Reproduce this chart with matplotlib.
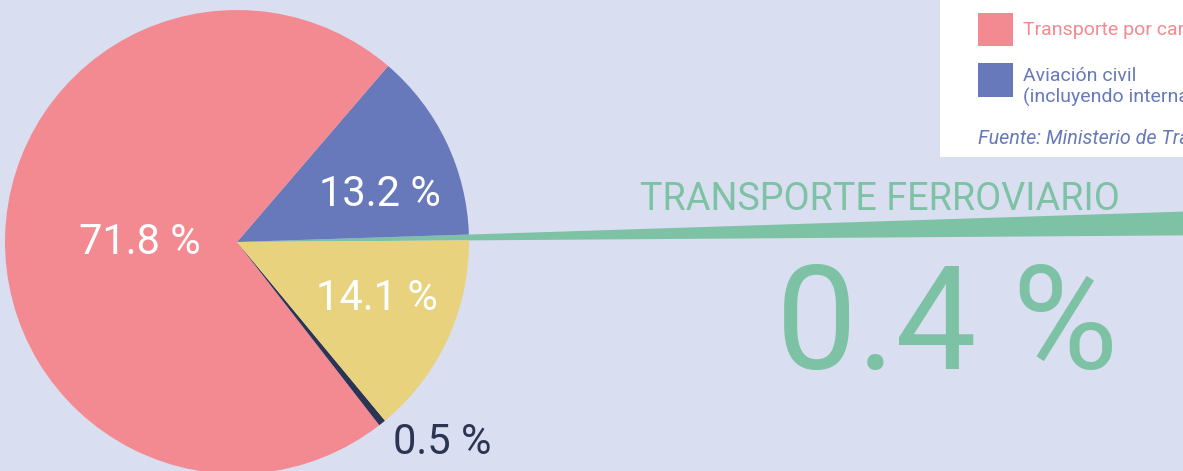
import matplotlib.pyplot as plt
from matplotlib.patches import Rectangle

plt.rcParams['font.family'] = ['Roboto', 'DejaVu Sans']

# slices, counterclockwise from the right
sectores = ['Transporte ferroviario', 'Aviación civil', 'Transporte por carretera',
            'Otros', 'Navegación']
valores = [0.4, 13.2, 71.8, 0.5, 14.1]
colores = ['#7DC2A4', '#6879BB', '#F48A91', '#2B3452', '#E9D27E']
etiquetas = ['', '13.2 %', '71.8 %', '0.5 %', '14.1 %']

leyenda = ['Transporte por carretera', 'Aviación civil\n(incluyendo internacional)']
fuente = 'Fuente: Ministerio de Transportes, Movilidad y Agenda Urbana'

fondo = '#D9DEF0'
W, H = 1183, 471

fig = plt.figure(figsize=(W / 100, H / 100), dpi=100, facecolor=fondo)
ax = fig.add_axes([0, 0, 1, 1])
ax.set_facecolor(fondo)

cx, cy, r = 237, 229, 232
wedges, _ = ax.pie(valores, colors=colores, startangle=0.4, counterclock=True,
                   center=(cx, cy), radius=r, wedgeprops=dict(linewidth=0))
# the railway slice is pulled out across the figure
wedges[0].set_radius(1300)

ax.set_xlim(0, W)
ax.set_ylim(0, H)
ax.set_aspect('auto')
ax.axis('off')

# slice labels
ax.text(140, 228, etiquetas[2], color='white', fontsize=30, ha='center', va='center')
ax.text(380, 276, etiquetas[1], color='white', fontsize=30, ha='center', va='center')
ax.text(377, 172, etiquetas[4], color='white', fontsize=30, ha='center', va='center')
ax.text(442, 29, etiquetas[3], color='#2B3452', fontsize=30, ha='center', va='center')

ax.text(880, 271, 'TRANSPORTE FERROVIARIO', color='#7DC2A4', fontsize=27.2,
        ha='center', va='center')
ax.text(947, 142, '0.4 %', color='#7DC2A4', fontsize=104,
        ha='center', va='center')

# legend box, cut by the figure edge
ax.add_patch(Rectangle((940, 314), 400, 200, facecolor='white', edgecolor='none'))
ax.add_patch(Rectangle((978, 425), 35, 33, facecolor=colores[2], edgecolor='none'))
ax.add_patch(Rectangle((978, 374), 35, 34, facecolor=colores[1], edgecolor='none'))
ax.text(1023, 441, leyenda[0], color=colores[2], fontsize=14, va='center')
ax.text(1023, 384, leyenda[1], color=colores[1], fontsize=14, va='center',
        linespacing=1.15)
ax.text(978, 333, fuente, color=colores[1], fontsize=14.2, va='center', style='italic')

fig.savefig('out.png', dpi=100, facecolor=fondo)
